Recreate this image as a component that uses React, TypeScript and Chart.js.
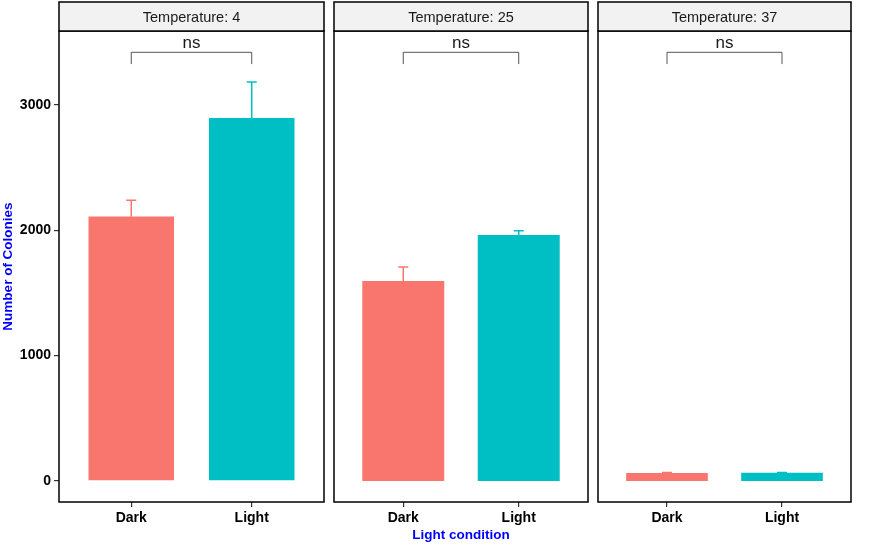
import { useEffect, useRef } from 'react';
import Chart from 'chart.js/auto';

// data
const categories = ['Dark', 'Light'];
const temperatures = ['4', '25', '37'];
const darkMeans = [2109, 1596, 64];
const lightMeans = [2895, 1963, 65];
const darkErr = [131, 112, 3];
const lightErr = [289, 34, 3];
const sigLabels = ['ns', 'ns', 'ns'];
const bracketTop = 3420;
const bracketLeg = 3326;
const yTicks = [0, 1000, 2000, 3000];

const barColors = ['#F8766D', '#00BFC4'];
const FONT = '"Liberation Sans", Arial, sans-serif';

// canvas slices: [left, width, padLeft, padRight]
const slices = [
  [0, 329, 0, 5],
  [329, 263, 5, 4],
  [592, 287, 6, 28],
];

const panelPlugin = {
  id: 'panelDeco',
  afterDraw(chart: any, _args: any, opts: any) {
    const { ctx, chartArea } = chart;
    const x = chart.scales.x;
    const y = chart.scales.y;
    const { left, right, top, bottom } = chartArea;

    // error bars (upper half only)
    const means = [darkMeans[opts.idx], lightMeans[opts.idx]];
    const errs = [darkErr[opts.idx], lightErr[opts.idx]];
    ctx.save();
    ctx.lineWidth = 1.5;
    means.forEach((m, i) => {
      const px = x.getPixelForValue(i + 1);
      const y0 = y.getPixelForValue(m);
      const y1 = y.getPixelForValue(m + errs[i]);
      ctx.strokeStyle = barColors[i];
      ctx.beginPath();
      ctx.moveTo(px, y0);
      ctx.lineTo(px, y1);
      ctx.moveTo(px - 5, y1);
      ctx.lineTo(px + 5, y1);
      ctx.stroke();
    });

    // significance bracket
    const bx1 = x.getPixelForValue(1);
    const bx2 = x.getPixelForValue(2);
    const byTop = y.getPixelForValue(bracketTop);
    const byLeg = y.getPixelForValue(bracketLeg);
    ctx.strokeStyle = '#555555';
    ctx.lineWidth = 1;
    ctx.beginPath();
    ctx.moveTo(bx1, byLeg);
    ctx.lineTo(bx1, byTop);
    ctx.lineTo(bx2, byTop);
    ctx.lineTo(bx2, byLeg);
    ctx.stroke();
    ctx.fillStyle = '#1A1A1A';
    ctx.font = `17px ${FONT}`;
    ctx.textAlign = 'center';
    ctx.textBaseline = 'alphabetic';
    ctx.fillText(sigLabels[opts.idx], (bx1 + bx2) / 2, byTop - 4);

    // panel border
    ctx.strokeStyle = '#000000';
    ctx.lineWidth = 1.5;
    ctx.strokeRect(left, top, right - left, bottom - top);

    // strip
    ctx.fillStyle = '#F2F2F2';
    ctx.fillRect(left, 2, right - left, top - 2);
    ctx.strokeRect(left, 2, right - left, top - 2);
    ctx.fillStyle = '#1A1A1A';
    ctx.font = `14.5px ${FONT}`;
    ctx.textBaseline = 'middle';
    ctx.fillText(`Temperature: ${temperatures[opts.idx]}`, (left + right) / 2, (2 + top) / 2 + 1);
    ctx.restore();
  },
};

function Panel({ idx }: { idx: number }) {
  const canvasRef = useRef<HTMLCanvasElement>(null);

  useEffect(() => {
    if (!canvasRef.current) return;
    const [, , padL, padR] = slices[idx];
    const tickFont = { family: FONT, size: 14, weight: 'bold' as const };
    const titleFont = { family: FONT, size: 13.5, weight: 'bold' as const };

    const chart = new Chart(canvasRef.current, {
      type: 'bar',
      data: {
        datasets: [
          {
            data: [
              { x: 1, y: darkMeans[idx] },
              { x: 2, y: lightMeans[idx] },
            ],
            backgroundColor: barColors,
            barPercentage: 0.71,
            categoryPercentage: 1,
          },
        ],
      },
      options: {
        responsive: true,
        maintainAspectRatio: false,
        animation: false,
        layout: { padding: { top: 31, left: padL, right: padR, bottom: 0 } },
        plugins: {
          legend: { display: false },
          tooltip: { enabled: false },
          // @ts-ignore
          panelDeco: { idx },
        },
        scales: {
          x: {
            type: 'linear',
            min: 0.4,
            max: 2.6,
            offset: false,
            afterBuildTicks: (s: any) => {
              s.ticks = [{ value: 1 }, { value: 2 }];
            },
            afterFit: (s: any) => {
              s.height = 43;
            },
            ticks: {
              autoSkip: false,
              maxRotation: 0,
              padding: 3,
              color: '#000000',
              font: tickFont,
              callback: (v: any) => categories[Number(v) - 1],
            },
            grid: {
              offset: false,
              drawOnChartArea: false,
              drawTicks: true,
              tickLength: 5,
              color: '#333333',
              lineWidth: 1.2,
            },
            border: { display: false },
            title: {
              display: idx === 1,
              text: 'Light condition',
              color: '#0000FF',
              font: titleFont,
              padding: { top: 0, bottom: 2 },
            },
          },
          y: {
            display: idx === 0,
            min: -168,
            max: 3590,
            afterBuildTicks: (s: any) => {
              s.ticks = yTicks.map((v) => ({ value: v }));
            },
            afterFit: (s: any) => {
              s.width = idx === 0 ? 59 : 0;
            },
            ticks: {
              padding: 3,
              color: '#000000',
              font: tickFont,
              callback: (v: any) => String(v),
            },
            grid: {
              drawOnChartArea: false,
              drawTicks: true,
              tickLength: 5,
              color: '#333333',
              lineWidth: 1.2,
            },
            border: { display: false },
            title: {
              display: true,
              text: 'Number of Colonies',
              color: '#0000FF',
              font: titleFont,
              padding: 0,
            },
          },
        },
      },
      plugins: [panelPlugin],
    });

    return () => {
      chart.destroy();
    };
  }, [idx]);

  const [left, width] = slices[idx];
  return (
    <div style={{ position: 'absolute', left, top: 0, width, height: 545 }}>
      <canvas ref={canvasRef}></canvas>
    </div>
  );
}

export default function App() {
  useEffect(() => {
    document.body.style.margin = '0';
  }, []);

  return (
    <div style={{ position: 'relative', width: 879, height: 545, background: '#ffffff' }}>
      {temperatures.map((_t, i) => (
        <Panel key={i} idx={i} />
      ))}
    </div>
  );
}
